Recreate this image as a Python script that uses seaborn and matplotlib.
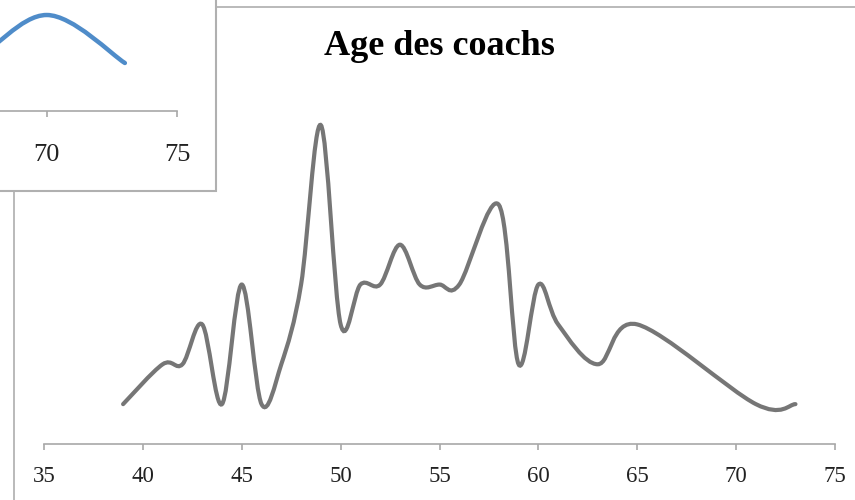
import matplotlib
matplotlib.use("Agg")
import matplotlib.pyplot as plt
import seaborn as sns
import numpy as np
from matplotlib.path import Path
from matplotlib.patches import PathPatch, Rectangle

# Données : âge -> nombre de coachs
ages = [39, 41, 42, 43, 44, 45, 46, 47, 48, 49, 50, 51, 52, 53, 54,
        55, 56, 58, 59, 60, 61, 63, 65, 71, 73]
counts = [1, 2, 2, 3, 1, 4, 1, 2, 4, 8, 3, 4, 4, 5, 4,
          4, 4, 6, 2, 4, 3, 2, 3, 1, 1]

# Morceau visible du graphique superposé (en haut à gauche)
inset_ages = [64, 67, 70, 73]
inset_counts = [1, 2, 4, 2]

x_ticks = [35, 40, 45, 50, 55, 60, 65, 70, 75]
inset_ticks = [70, 75]
title = "Age des coachs"

W, H = 855, 500


def box(x0, y0, x1, y1):
    """Rectangle en pixels (origine en haut à gauche) -> coordonnées figure."""
    return [x0 / W, 1 - y1 / H, (x1 - x0) / W, (y1 - y0) / H]


def smooth_path(xs, ys):
    """Courbe lissée façon Excel (Bézier type Catmull-Rom)."""
    pts = np.column_stack([xs, ys]).astype(float)
    n = len(pts)
    verts = [pts[0]]
    codes = [Path.MOVETO]
    for i in range(n - 1):
        p0 = pts[max(i - 1, 0)]
        p1 = pts[i]
        p2 = pts[i + 1]
        p3 = pts[min(i + 2, n - 1)]
        verts += [p1 + (p2 - p0) / 6, p2 - (p3 - p1) / 6, p2]
        codes += [Path.CURVE4] * 3
    return Path(verts, codes)


sns.set_theme(style="white")
plt.rcParams['font.family'] = ['Liberation Serif', 'DejaVu Serif']

fig = plt.figure(figsize=(8.55, 5), dpi=100)
fig.patch.set_facecolor("white")

# ===== Graphique principal =====
unit = 39.86
ax = fig.add_axes(box(44, 444 - 9 * unit, 835, 444))
ax.set_facecolor("none")
ax.add_patch(PathPatch(smooth_path(ages, counts), facecolor="none",
                       edgecolor="#767676", linewidth=3.0, capstyle="round"))
ax.set_xlim(35, 75)
ax.set_ylim(0, 9)
ax.set_xticks(x_ticks)
ax.set_xticklabels([str(t) for t in x_ticks])
ax.set_yticks([])
sns.despine(ax=ax, left=True)
ax.spines["bottom"].set_color("#a8a8a8")
ax.spines["bottom"].set_linewidth(1.2)
ax.tick_params(axis="x", bottom=True, direction="out", length=4.5, width=1.2,
               color="#a8a8a8", pad=11, labelsize=16.5, labelcolor="#222222")

fig.text(439 / W, 1 - 55 / H, title, ha="center", va="baseline",
         fontsize=26, fontweight="bold", color="black")

# bord de la fenêtre du graphique principal
fig.add_artist(Rectangle((14 / W, -0.1), 1.2, 1.1 - 7 / H, transform=fig.transFigure,
                         facecolor="none", edgecolor="#b4b4b4", linewidth=1.3, zorder=0.5))

# ===== Fenêtre superposée en haut à gauche =====
fig.add_artist(Rectangle((-0.02, 1 - 191 / H), 216 / W + 0.02, 191 / H + 0.02,
                         transform=fig.transFigure, facecolor="white",
                         edgecolor="#b0b0b0", linewidth=1.5, zorder=1))

inset_unit_x = (177 - 46.7) / 5
ax2 = fig.add_axes(box(0, 111 - 4.5 * 24, 177, 111), zorder=2)
ax2.set_facecolor("none")
ax2.add_patch(PathPatch(smooth_path(inset_ages, inset_counts), facecolor="none",
                        edgecolor="#4f8cc9", linewidth=3.2, capstyle="round"))
ax2.set_xlim(70 - 46.7 / inset_unit_x, 75)
ax2.set_ylim(0, 4.5)
ax2.set_xticks(inset_ticks)
ax2.set_xticklabels([str(t) for t in inset_ticks])
ax2.set_yticks([])
sns.despine(ax=ax2, left=True)
ax2.spines["bottom"].set_color("#a8a8a8")
ax2.spines["bottom"].set_linewidth(1.2)
ax2.tick_params(axis="x", bottom=True, direction="out", length=4.5, width=1.2,
                color="#a8a8a8", pad=19, labelsize=19, labelcolor="#222222")

fig.savefig("out.png", dpi=100)
